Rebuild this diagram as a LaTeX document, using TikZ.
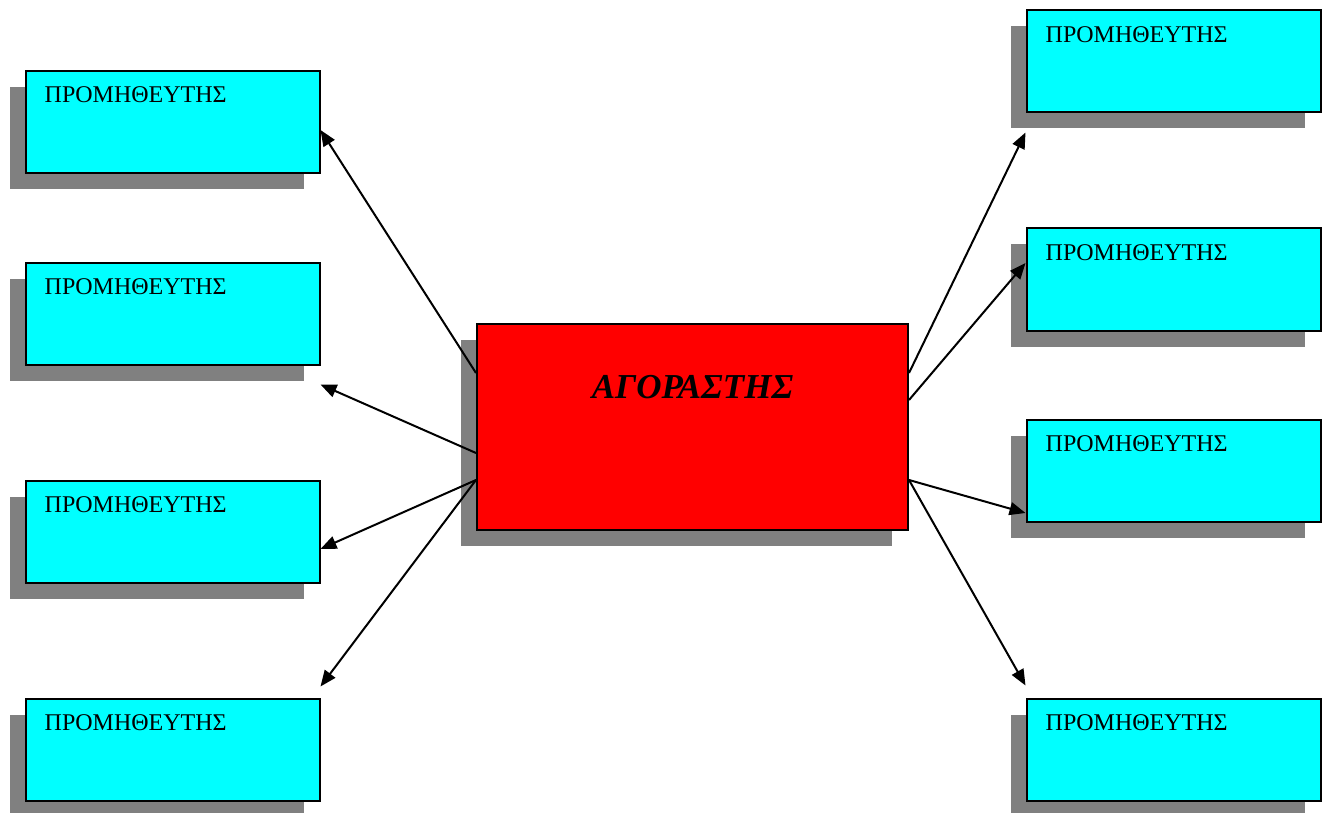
\documentclass[tikz,border=0pt]{standalone}
\usepackage{fontspec}
\setmainfont{Liberation Serif}
\usetikzlibrary{arrows.meta,shadows,calc}
\definecolor{boxcyan}{RGB}{0,255,255}
\definecolor{boxred}{RGB}{255,0,0}
\definecolor{shadowgray}{RGB}{128,128,128}
\tikzset{
  shadowed/.style={drop shadow={shadow xshift=-16pt,shadow yshift=-16pt,opacity=1,fill=shadowgray}},
  supplier/.style={shadowed,draw=black,line width=2pt,fill=boxcyan,rectangle,
    minimum width=294pt,minimum height=102pt,inner sep=0pt,
    label={[anchor=base west,inner sep=0pt,xshift=20pt,yshift=-33pt,font=\fontsize{24}{28}\selectfont]north west:ΠΡΟΜΗΘΕΥΤΗΣ}},
  buyer/.style={shadowed,draw=black,line width=2pt,fill=boxred,rectangle,
    minimum width=431pt,minimum height=206pt,inner sep=0pt},
  link/.style={line width=2pt,-{Triangle[length=16pt,width=13pt]}}
}
\begin{document}
\begin{tikzpicture}[x=1pt,y=-1pt]
\useasboundingbox (0,0) rectangle (1328,813);
% left suppliers
\node[supplier] (L1) at (172.5,122) {};
\node[supplier] (L2) at (172.5,313.5) {};
\node[supplier] (L3) at (172.5,531.5) {};
\node[supplier] (L4) at (172.5,749.5) {};
% right suppliers
\node[supplier] (R1) at (1173.5,61.5) {};
\node[supplier] (R2) at (1173.5,279.5) {};
\node[supplier] (R3) at (1173.5,470.5) {};
\node[supplier] (R4) at (1173.5,749.5) {};
% buyer
\node[buyer,label={[anchor=base,inner sep=0pt,yshift=-75pt,font=\fontsize{35}{41}\selectfont\bfseries\itshape]north:ΑΓΟΡΑΣΤΗΣ}] (C) at (692.5,427) {};
% free ends
\coordinate (e2) at ($(L2.south east)+(0,19)$);
\coordinate (e5) at ($(R1.south west)+(0,19)$);
% connectors
\draw[link] ($(C.north west)+(0,50)$) -- ($(L1.east)+(0,8)$);
\draw[link] ($(C.north west)+(0,130)$) -- (e2);
\draw[link] ($(C.north west)+(0,157)$) -- ($(L3.east)+(0,17.5)$);
\draw[link] ($(C.north west)+(0,157)$) -- ($(L4.north east)+(0,-11)$);
\draw[link] ($(C.north east)+(0,50)$) -- (e5);
\draw[link] ($(C.north east)+(0,77)$) -- ($(R2.west)+(0,-16.5)$);
\draw[link] ($(C.north east)+(0,157)$) -- ($(R3.west)+(0,42.5)$);
\draw[link] ($(C.north east)+(0,157)$) -- ($(R4.north west)+(0,-12)$);
\end{tikzpicture}
\end{document}
